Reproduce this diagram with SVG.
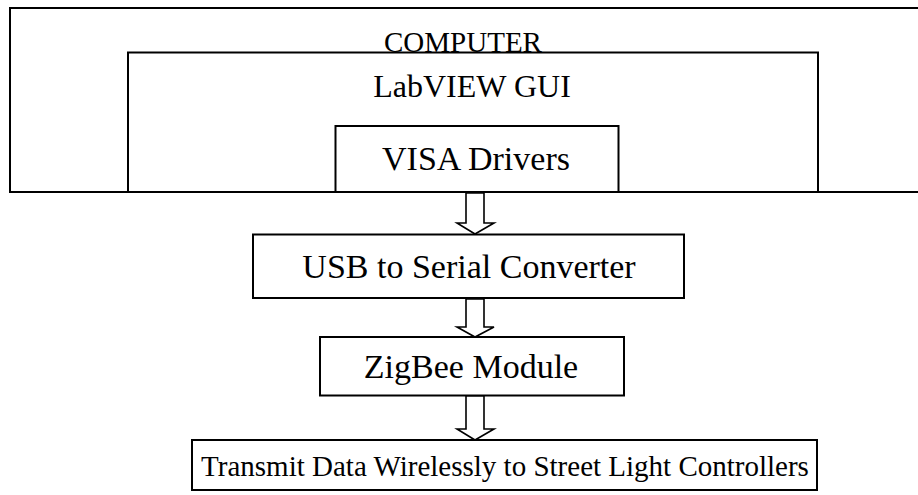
<svg xmlns="http://www.w3.org/2000/svg" width="918" height="495" viewBox="0 0 918 495">
<style>
.box{fill:none;stroke:#000;stroke-width:2}
.t{font-family:'Liberation Serif','Times New Roman','DejaVu Serif',serif;fill:#000;text-anchor:middle}
.arr{fill:#fff;stroke:#000;stroke-width:1.6;stroke-linejoin:miter}
</style>
<rect width="918" height="495" fill="#fff"/>
<g id="computer">
<path class="box" d="M930 8 H10 V192 H930"/>
<text class="t" x="463" y="52" font-size="29">COMPUTER</text>
</g>
<g id="labview">
<path class="box" d="M128 192 V52.5 H818 V192"/>
<text class="t" x="472" y="97" font-size="32">LabVIEW GUI</text>
</g>
<g id="visa">
<path class="box" d="M335.5 192 V126 H618.5 V192"/>
<text class="t" x="476" y="170" font-size="34">VISA Drivers</text>
</g>
<g id="usb">
<rect class="box" x="253" y="234.5" width="431" height="63.5"/>
<text class="t" x="469" y="278" font-size="34">USB to Serial Converter</text>
</g>
<g id="zigbee">
<rect class="box" x="320" y="337" width="304" height="58.5"/>
<text class="t" x="471" y="378" font-size="34">ZigBee Module</text>
</g>
<g id="transmit">
<rect class="box" x="192" y="440" width="625" height="50"/>
<text class="t" x="505" y="476" font-size="29">Transmit Data Wirelessly to Street Light Controllers</text>
</g>
<g id="connectors">
<path class="arr" d="M466 193 V223 H457 L475 234 L494 223 H484 V193 Z"/>
<path class="arr" d="M466 299 V327 H457 L475 337 L494 327 H484 V299 Z"/>
<path class="arr" d="M466 396 V429 H457 L475 440 L494 429 H484 V396 Z"/>
</g>
</svg>
